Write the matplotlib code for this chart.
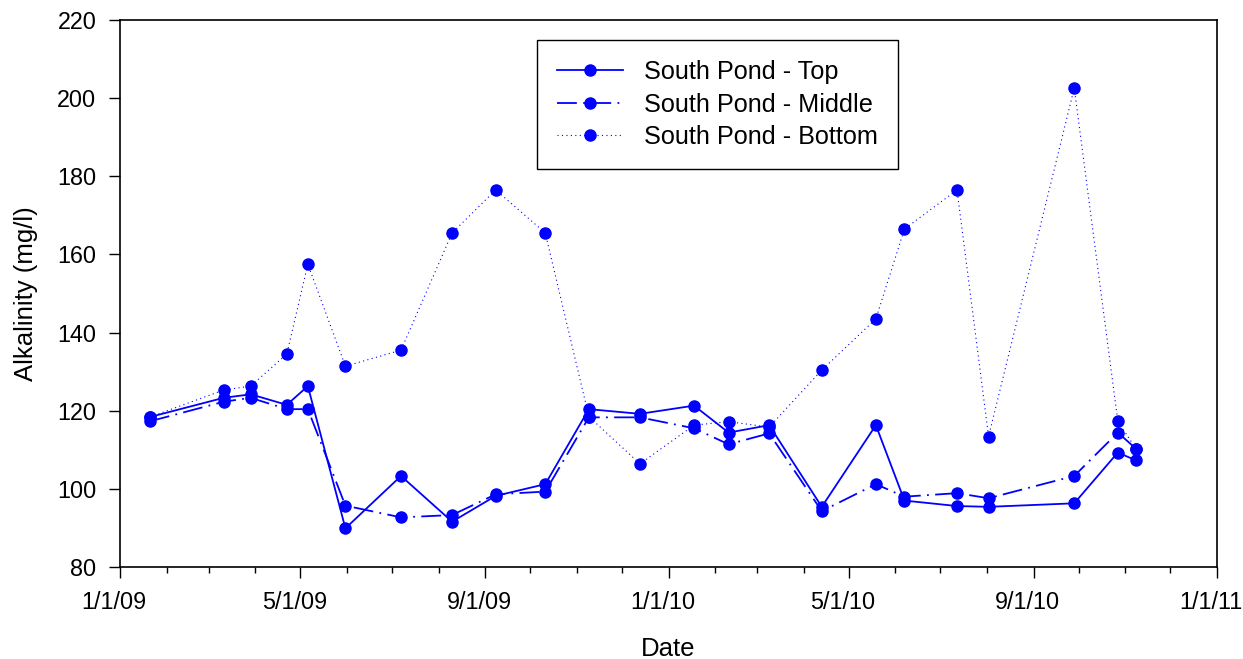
import datetime as dt
import numpy as np
import matplotlib
matplotlib.use('Agg')
import matplotlib.pyplot as plt
import matplotlib.dates as mdates
import matplotlib.transforms as mtransforms

plt.rcParams['font.family'] = ['Liberation Sans', 'DejaVu Sans']

# Datas de amostragem
dates = ['2009-01-21', '2009-03-11', '2009-03-29', '2009-04-22', '2009-05-06',
         '2009-05-31', '2009-07-07', '2009-08-10', '2009-09-08', '2009-10-11',
         '2009-11-09', '2009-12-13', '2010-01-18', '2010-02-10', '2010-03-09',
         '2010-04-13', '2010-05-19', '2010-06-07', '2010-07-12', '2010-08-02',
         '2010-09-28', '2010-10-27', '2010-11-08']

top = [118.4, 123.3, 124.2, 121.5, 126.3, 89.9, 103.3, 91.6, 98.2, 101.2,
       120.4, 119.2, 121.3, 114.4, 116.3, 95.4, 116.3, 97.0, 95.6, 95.4,
       96.3, 109.3, 107.3]
middle = [117.3, 122.3, 123.3, 120.4, 120.4, 95.7, 92.7, 93.3, 98.6, 99.3,
          118.3, 118.3, 115.5, 111.4, 114.2, 94.3, 101.2, 98.0, 98.9, 97.6,
          103.3, 114.4, 110.3]
bottom = [118.4, 125.3, 126.3, 134.5, 157.5, 131.4, 135.5, 165.5, 176.5, 165.5,
          118.5, 106.4, 116.3, 117.2, 115.8, 130.4, 143.5, 166.5, 176.5, 113.4,
          202.6, 117.3, 110.3]

labels = ['South Pond - Top', 'South Pond - Middle', 'South Pond - Bottom']

x = [dt.datetime.strptime(d, '%Y-%m-%d') for d in dates]

fig = plt.figure(figsize=(12.43, 6.59), dpi=100)
ax = fig.add_axes([120 / 1243, 92 / 659, 1097 / 1243, 547 / 659])

blue = '#0000ff'
ax.plot(x, top, color=blue, lw=1.3, marker='o', ms=8, label=labels[0])
ax.plot(x, middle, color=blue, lw=1.3, marker='o', ms=8,
        dashes=(11, 3.5, 1, 3.5), label=labels[1])
ax.plot(x, bottom, color=blue, lw=0.8, marker='o', ms=8,
        linestyle=(0, (1, 3)), label=labels[2])

ax.set_xlim(dt.datetime(2009, 1, 1), dt.datetime(2011, 1, 1))
ax.set_ylim(80, 220)
ax.set_yticks(np.arange(80, 221, 20))

ax.xaxis.set_major_locator(mdates.MonthLocator(bymonth=[1, 5, 9]))
ax.xaxis.set_minor_locator(mdates.MonthLocator())
ax.xaxis.set_major_formatter(plt.FuncFormatter(
    lambda v, p: (lambda d: f'{d.month}/{d.day}/{d.strftime("%y")}')(mdates.num2date(v))))

ax.tick_params(axis='both', which='major', direction='out', length=8, width=1,
               labelsize=16.8, pad=9)
ax.tick_params(axis='x', which='minor', direction='out', length=4, width=1)
ax.tick_params(top=False, right=False)
for s in ax.spines.values():
    s.set_linewidth(1.2)

# deslocar rotulos do eixo x um pouco para a esquerda
shift = mtransforms.ScaledTranslation(-6 / 100, 0, fig.dpi_scale_trans)
for lab in ax.xaxis.get_majorticklabels():
    lab.set_transform(lab.get_transform() + shift)

ax.set_xlabel('Date', fontsize=18.5, labelpad=17)
ax.set_ylabel('Alkalinity (mg/l)', fontsize=18.5, labelpad=14)

leg = ax.legend(loc='upper left', bbox_to_anchor=(0.380, 0.9634), borderaxespad=0,
                fontsize=18.2, fancybox=False, edgecolor='black', framealpha=1,
                handlelength=2.6, handletextpad=0.85, borderpad=0.8,
                labelspacing=0.33, numpoints=1)
leg.get_frame().set_linewidth(1.0)

fig.savefig('out.png', dpi=100)
